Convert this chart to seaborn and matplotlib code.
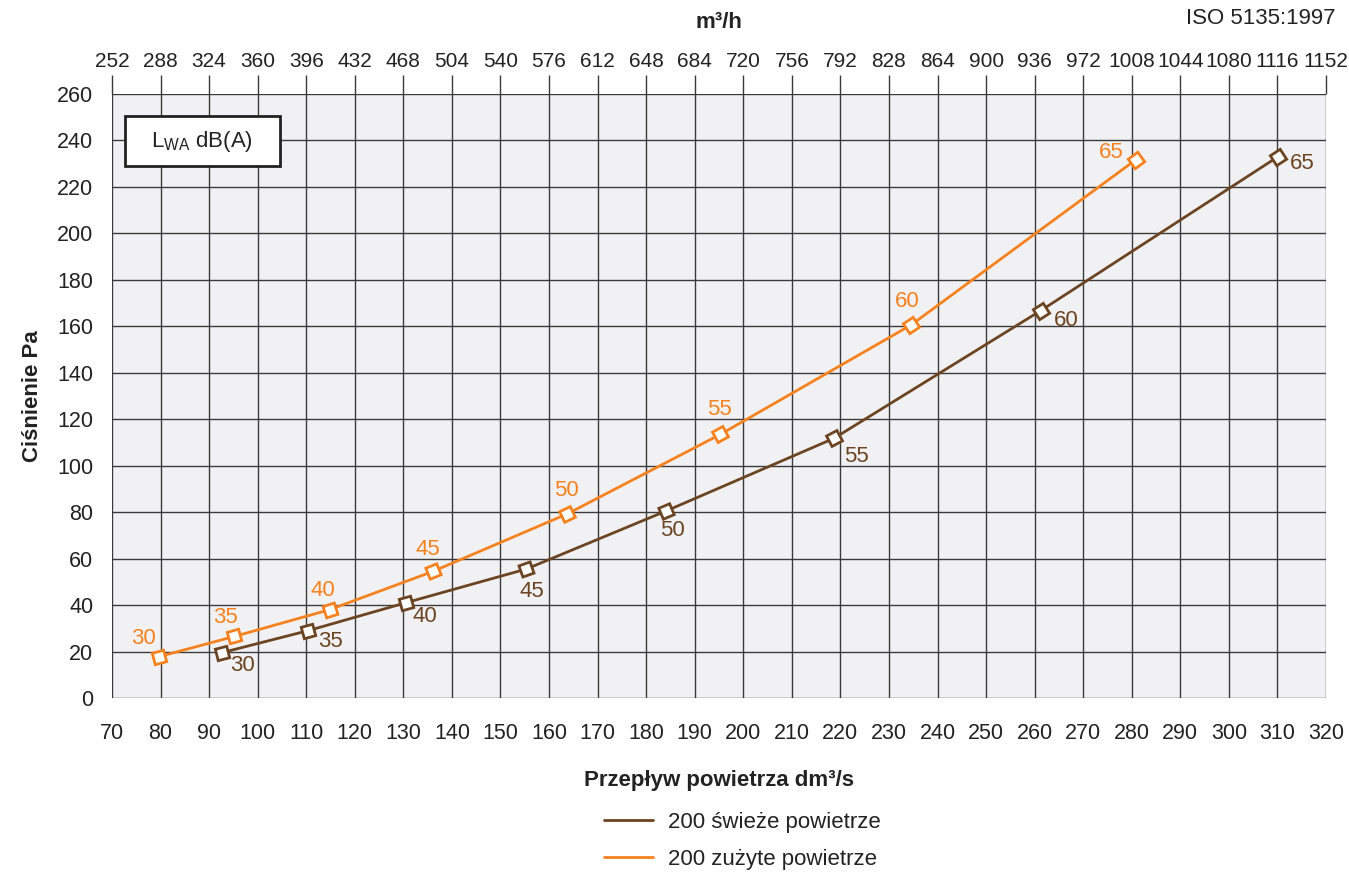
import numpy as np
import pandas as pd
import matplotlib
matplotlib.use("Agg")
import matplotlib.pyplot as plt
from matplotlib.patches import Rectangle
from matplotlib.lines import Line2D
import seaborn as sns

# ---- data ----
fresh_flow = [92.6, 110.4, 130.5, 155.3, 184.1, 218.7, 261.3, 310.1]
fresh_pressure = [19.5, 29.0, 41.0, 55.5, 80.5, 111.8, 166.8, 233.0]
exhaust_flow = [79.7, 95.2, 114.8, 136.1, 163.8, 195.3, 234.5, 280.9]
exhaust_pressure = [17.8, 26.5, 38.0, 54.5, 79.3, 113.5, 160.5, 231.8]
sound_levels = [30, 35, 40, 45, 50, 55, 60, 65]
series_names = ["200 świeże powietrze", "200 zużyte powietrze"]
x_ticks = list(range(70, 321, 10))
y_ticks = list(range(0, 261, 20))
top_ticks = list(range(252, 1153, 36))

BROWN = "#6b4523"
ORANGE = "#f5821f"
TXT = "#222222"
FS = 15.5

sns.set_theme(style="white")
plt.rcParams["font.family"] = ["Liberation Sans", "DejaVu Sans"]
plt.rcParams["mathtext.fontset"] = "custom"
plt.rcParams["mathtext.rm"] = "Liberation Sans"

fig = plt.figure(figsize=(13.49, 8.72), dpi=100)
ax = fig.add_axes([112/1349, 1-698/872, (1326-112)/1349, (698-94)/872])
ax.set_facecolor("#f1f1f3")
ax.set_xlim(70, 320)
ax.set_ylim(0, 260)

df_fresh = pd.DataFrame({"flow": fresh_flow, "pressure": fresh_pressure})
df_exh = pd.DataFrame({"flow": exhaust_flow, "pressure": exhaust_pressure})

sns.lineplot(data=df_exh, x="flow", y="pressure", ax=ax, color=ORANGE, lw=2,
             sort=False, zorder=5)
sns.lineplot(data=df_fresh, x="flow", y="pressure", ax=ax, color=BROWN, lw=2,
             sort=False, zorder=5)
ax.set_xlim(70, 320)
ax.set_ylim(0, 260)


def rotated_markers(xs, ys, color):
    pts = ax.transData.transform(np.column_stack([xs, ys]))
    n = len(xs)
    for i in range(n):
        a = pts[max(i - 1, 0)]
        b = pts[min(i + 1, n - 1)]
        ang = np.degrees(np.arctan2(b[1] - a[1], b[0] - a[0]))
        ax.plot([xs[i]], [ys[i]], linestyle="none", marker=(4, 0, ang + 45),
                markersize=12, markerfacecolor="white", markeredgecolor=color,
                markeredgewidth=2, zorder=6)


rotated_markers(exhaust_flow, exhaust_pressure, ORANGE)
rotated_markers(fresh_flow, fresh_pressure, BROWN)

# sound-level labels
fresh_off = [(21, -13), (22, -11), (19, -14), (6, -22), (6, -20), (22, -18), (25, -10), (24, -7)]
exh_off = [(-16, 18), (-9, 19), (-7, 19), (-5, 22), (-1, 23), (-1, 25), (-4, 24), (-25, 7)]
for xv, yv, lv, off in zip(fresh_flow, fresh_pressure, sound_levels, fresh_off):
    ax.annotate(str(lv), (xv, yv), xytext=(off[0]*0.72, off[1]*0.72), textcoords="offset points",
                ha="center", va="center", fontsize=16, color=BROWN, zorder=7)
for xv, yv, lv, off in zip(exhaust_flow, exhaust_pressure, sound_levels, exh_off):
    ax.annotate(str(lv), (xv, yv), xytext=(off[0]*0.72, off[1]*0.72), textcoords="offset points",
                ha="center", va="center", fontsize=16, color=ORANGE, zorder=7)

ax.set_xticks(x_ticks)
ax.set_yticks(y_ticks)
ax.grid(True, color="#3a3a3a", lw=1.0)
ax.set_axisbelow(True)
for s in ax.spines.values():
    s.set_visible(False)
ax.tick_params(axis="both", which="both", width=1, color="#3a3a3a",
               labelsize=FS, labelcolor=TXT)
ax.tick_params(axis="x", length=12, pad=6)
ax.tick_params(axis="y", length=7, pad=6.5)

ax.set_xlabel("Przepływ powietrza dm³/s", fontsize=16, fontweight="bold", color=TXT, labelpad=19)
ax.set_ylabel("Ciśnienie Pa", fontsize=16, fontweight="bold", color=TXT, labelpad=10)

sec = ax.secondary_xaxis("top", functions=(lambda v: v*3.6, lambda v: v/3.6))
sec.set_xticks(top_ticks)
sec.tick_params(length=13.7, width=1, color="#3a3a3a", labelsize=15, labelcolor=TXT, pad=3)
for s in sec.spines.values():
    s.set_visible(False)
sec.set_xlabel("m³/h", fontsize=16, fontweight="bold", color=TXT, labelpad=17)

fig.text(1335/1349, 1-18/872, "ISO 5135:1997", ha="right", va="center", fontsize=16, color=TXT)

# LWA box
ax.add_patch(Rectangle((13/1214, (698-166)/604), 155/1214, 50/604, transform=ax.transAxes,
                       facecolor="white", edgecolor=TXT, lw=2, zorder=8))
ax.text(90/1214, (698-141)/604, r"L$_{\mathregular{WA}}$ dB(A)", transform=ax.transAxes,
        ha="center", va="center", fontsize=16, color=TXT, zorder=9)

handles = [Line2D([0], [0], color=BROWN, lw=2), Line2D([0], [0], color=ORANGE, lw=2)]
fig.legend(handles, series_names, loc="upper left", bbox_to_anchor=(586/1349, 1-794/872),
           frameon=False, fontsize=16, handlelength=2.2, labelspacing=0.73, handletextpad=0.7,
           labelcolor=TXT, borderpad=0.3)

fig.savefig("out.png", dpi=100)
